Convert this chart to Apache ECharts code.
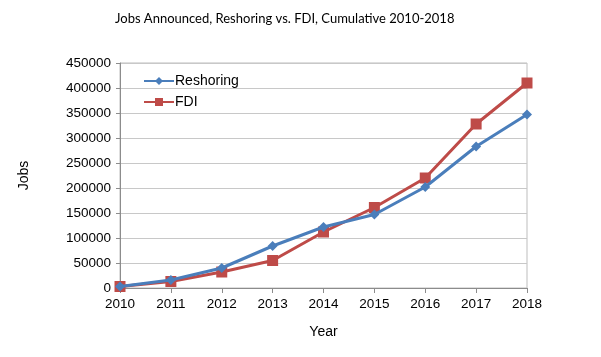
<!DOCTYPE html>
<html><head><meta charset="utf-8">
<script src="https://cdn.jsdelivr.net/npm/echarts@6/dist/echarts.min.js"></script>
<style>html,body{margin:0;padding:0;background:#fff}#c{width:601px;height:357px}</style>
</head><body><div id="c"></div>
<script>
const years = ['2010','2011','2012','2013','2014','2015','2016','2017','2018'];
const reshoring = [3000, 16000, 40000, 84000, 122000, 147000, 202000, 283000, 347000];
const fdi = [3000, 13000, 32000, 55000, 112000, 161000, 220000, 328000, 410000];
const yTicks = [0, 50000, 100000, 150000, 200000, 250000, 300000, 350000, 400000, 450000];

const chart = echarts.init(document.getElementById('c'), null, {renderer:'canvas'});
const font = 'Liberation Sans, Arial, sans-serif';
chart.setOption({
  animation: false,
  title: {text: 'Jobs Announced, Reshoring vs. FDI, Cumulative 2010-2018', left: 110, top: 7,
    textStyle: {fontFamily: 'Lato, sans-serif', fontSize: 13, fontWeight: 'normal', color: '#000'}},
  legend: {orient: 'vertical', left: 138, top: 69, itemWidth: 30, itemHeight: 10, itemGap: 7,
    textStyle: {fontFamily: font, fontSize: 14, color: '#000', padding: [0,0,0,-4]},
    data: ['Reshoring', 'FDI']},
  grid: {left: 120, right: 74, top: 63, bottom: 69, show: true, borderColor: '#bdbdbd', borderWidth: 1},
  xAxis: {type: 'category', data: years, boundaryGap: false, name: 'Year', nameLocation: 'middle', nameGap: 37,
    nameTextStyle: {fontFamily: font, fontSize: 14, color: '#000'},
    axisLine: {lineStyle: {color: '#8c8c8c'}},
    axisTick: {show: true, length: 5, lineStyle: {color: '#8c8c8c'}},
    axisLabel: {fontFamily: font, fontSize: 13.5, color: '#000', margin: 9},
    splitLine: {show: false}},
  yAxis: {type: 'value', min: yTicks[0], max: yTicks[yTicks.length-1], interval: 50000,
    name: 'Jobs', nameLocation: 'middle', nameGap: 89, nameRotate: 90,
    nameTextStyle: {fontFamily: font, fontSize: 14, color: '#000'},
    axisLine: {show: true, lineStyle: {color: '#8c8c8c'}},
    axisTick: {show: true, length: 4, lineStyle: {color: '#8c8c8c'}},
    axisLabel: {fontFamily: font, fontSize: 13.5, color: '#000', margin: 9, formatter: v => String(v)},
    splitLine: {show: true, lineStyle: {color: '#c8c8c8'}}},
  series: [
    {name: 'Reshoring', type: 'line', data: reshoring, symbol: 'diamond', symbolSize: 10,
     lineStyle: {width: 3, color: '#4a7ebb'}, itemStyle: {color: '#4a7ebb'}, z: 3},
    {name: 'FDI', type: 'line', data: fdi, symbol: 'rect', symbolSize: 11,
     lineStyle: {width: 3, color: '#be4b48'}, itemStyle: {color: '#be4b48'}, z: 2}
  ]
});
</script></body></html>
